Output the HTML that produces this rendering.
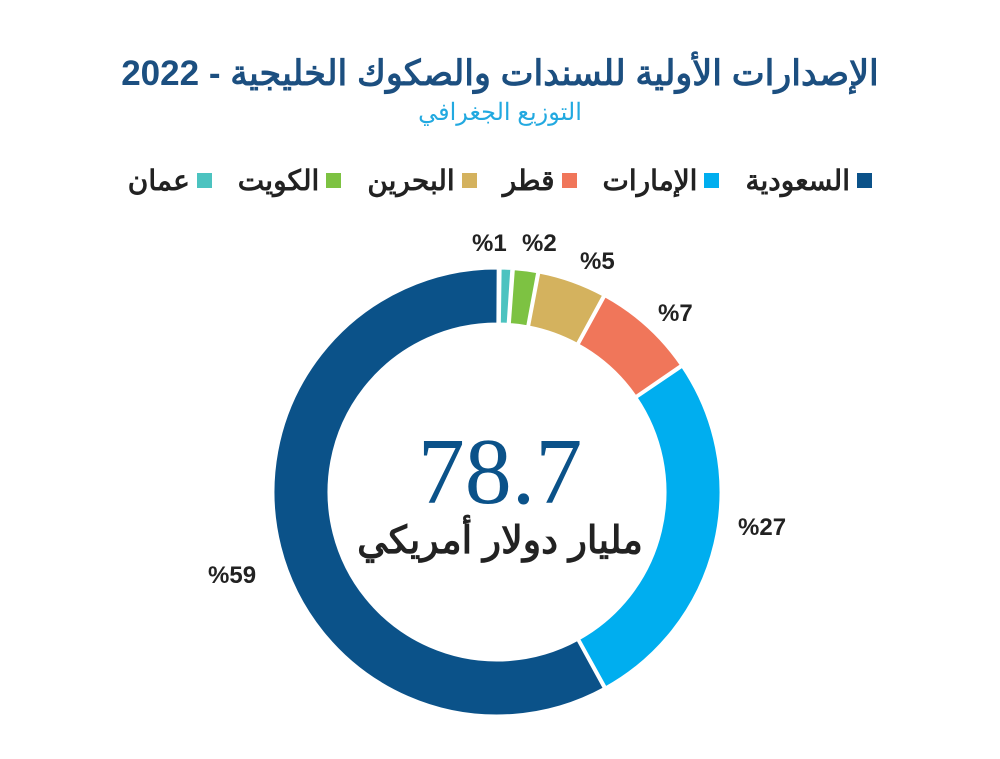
<!DOCTYPE html>
<html><head><meta charset="utf-8"><style>
body{margin:0;background:#fff;width:1000px;height:759px;overflow:hidden;position:relative;font-family:"Liberation Sans","Noto Sans CJK SC",sans-serif}
.t{position:absolute;left:0;width:1000px;text-align:center;direction:rtl}
.lg{position:absolute;top:164px;right:128px;direction:rtl;display:flex;gap:26px;font-weight:bold;font-size:28px;color:#222}
.lg span{display:flex;align-items:center}
.lg i{display:inline-block;width:15px;height:15px;margin-left:7px}
.p{position:absolute;font-weight:bold;font-size:24px;color:#222}
</style></head><body>
<div class="t" style="top:54px;font-size:35px;font-weight:bold;color:#1c4f80">الإصدارات الأولية للسندات والصكوك الخليجية - 2022</div>
<div class="t" style="top:98px;font-size:24px;color:#22a9e0">التوزيع الجغرافي</div>
<div class="lg">
<span><i style="background:#0b5289"></i>السعودية</span>
<span><i style="background:#00aeef"></i>الإمارات</span>
<span><i style="background:#f0765a"></i>قطر</span>
<span><i style="background:#d4b25e"></i>البحرين</span>
<span><i style="background:#7dc242"></i>الكويت</span>
<span><i style="background:#4cc3c0"></i>عمان</span>
</div>
<svg id="s" width="1000" height="759" style="position:absolute;left:0;top:0"></svg>
<div class="p" style="left:472px;top:230px">%1</div>
<div class="p" style="left:522px;top:230px">%2</div>
<div class="p" style="left:580px;top:248px">%5</div>
<div class="p" style="left:658px;top:300px">%7</div>
<div class="p" style="left:738px;top:514px">%27</div>
<div class="p" style="left:208px;top:562px">%59</div>
<div class="t" style="top:418px;font-family:'Liberation Serif',serif;font-size:94px;color:#0b5289">78.7</div>
<div class="t" style="top:518px;font-size:38px;font-weight:bold;color:#222">مليار دولار أمريكي</div>
<script>
var cx=497,cy=492,R=224,r=168;
var segs=[[0.8,3.8,"#4cc3c0"],[4.2,10.5,"#7dc242"],[10.8,28.5,"#d4b25e"],[28.8,55.5,"#f0765a"],[55.8,151,"#00aeef"],[151.3,360.3,"#0b5289"]];
function pt(a,rr){a=a*Math.PI/180;return [cx+rr*Math.sin(a),cy-rr*Math.cos(a)];}
var h="";
segs.forEach(function(s){var a=s[0],b=s[1],l=(b-a)>180?1:0;
var p1=pt(a,R),p2=pt(b,R),p3=pt(b,r),p4=pt(a,r);
h+='<path fill="'+s[2]+'" stroke="#fff" stroke-width="3" d="M'+p1+' A'+R+','+R+' 0 '+l+' 1 '+p2+' L'+p3+' A'+r+','+r+' 0 '+l+' 0 '+p4+' Z"/>';});
document.getElementById("s").innerHTML=h;
</script>
</body></html>
